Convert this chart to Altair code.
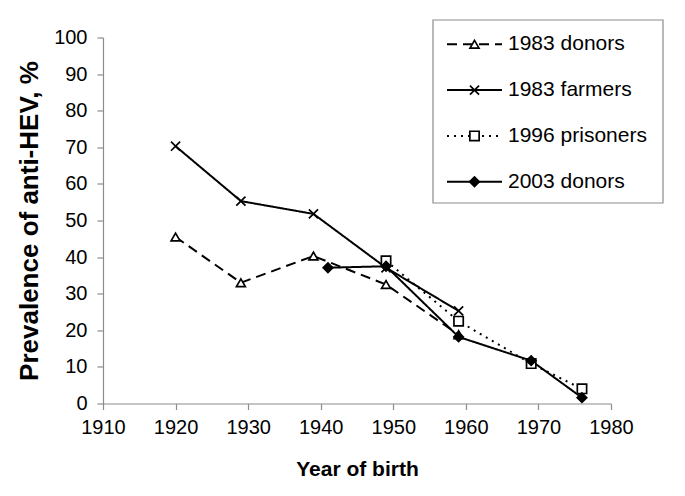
import altair as alt
import pandas as pd

series = ["1983 donors", "1983 farmers", "1996 prisoners", "2003 donors"]

donors83_years = [1920, 1929, 1939, 1949, 1959]
donors83_vals = [45.5, 33.0, 40.3, 32.5, 18.8]

farmers83_years = [1920, 1929, 1939, 1949, 1959]
farmers83_vals = [70.3, 55.3, 51.8, 37.1, 25.3]

prisoners96_years = [1949, 1959, 1969, 1976]
prisoners96_vals = [39.0, 22.5, 10.9, 4.0]

donors03_years = [1941, 1949, 1959, 1969, 1976]
donors03_vals = [37.1, 37.5, 18.2, 11.7, 1.6]

x_ticks = [1910, 1920, 1930, 1940, 1950, 1960, 1970, 1980]
y_ticks = [0, 10, 20, 30, 40, 50, 60, 70, 80, 90, 100]

rows = []
for name, ys, vs in [
    (series[0], donors83_years, donors83_vals),
    (series[1], farmers83_years, farmers83_vals),
    (series[2], prisoners96_years, prisoners96_vals),
    (series[3], donors03_years, donors03_vals),
]:
    for y, v in zip(ys, vs):
        rows.append({"series": name, "year": y, "value": v})
df = pd.DataFrame(rows)

leg_df = pd.DataFrame({"series": series, "idx": list(range(len(series)))})
box_df = pd.DataFrame({"k": [0]})

FONT = "Liberation Sans"
XPATH = "M-1,-1L1,1M-1,1L1,-1"

dash_scale = alt.Scale(domain=series, range=[[10, 6], [1, 0], [2, 5], [1, 0]])
shape_scale = alt.Scale(domain=series, range=["triangle-up", XPATH, "square", "diamond"])
fill_scale = alt.Scale(domain=series, range=["white", "white", "white", "black"])
size_scale = alt.Scale(domain=series, range=[80, 90, 80, 80])

x_enc = alt.X(
    "year:Q",
    scale=alt.Scale(domain=[1910, 1980], nice=False),
    axis=alt.Axis(
        values=x_ticks, tickCount=8, format="d", grid=False, title="Year of birth",
        titleBaseline="alphabetic", titleY=72, labelFlush=False,
        labelOverlap=False,
    ),
)
y_enc = alt.Y(
    "value:Q",
    scale=alt.Scale(domain=[0, 100], nice=False),
    axis=alt.Axis(
        values=y_ticks, tickCount=11, grid=False, title="Prevalence of anti-HEV, %",
        titleBaseline="alphabetic", titleX=-66, titleY=183, titleFontSize=26,
        labelFlush=False, labelOverlap=False,
    ),
)

lines = alt.Chart(df).mark_line(color="black", strokeWidth=2).encode(
    x=x_enc,
    y=y_enc,
    detail="series:N",
    strokeDash=alt.StrokeDash("series:N", scale=dash_scale, legend=None),
)

points = alt.Chart(df).mark_point(
    color="black", stroke="black", strokeWidth=1.7, filled=False, opacity=1
).encode(
    x=x_enc,
    y=y_enc,
    shape=alt.Shape("series:N", scale=shape_scale, legend=None),
    fill=alt.Fill("series:N", scale=fill_scale, legend=None),
    size=alt.Size("series:N", scale=size_scale, legend=None),
)

main = alt.layer(lines, points)

box = alt.Chart(box_df).mark_rect(
    fill="white", stroke="#8c8c8c", strokeWidth=1.2
).encode(
    x=alt.value(330), x2=alt.value(560), y=alt.value(-17.5), y2=alt.value(165.5)
)

leg_y = alt.Y("idx:Q", scale=alt.Scale(domain=[0, 3], range=[6.8, 144.2]), axis=None)

leg_lines = alt.Chart(leg_df).mark_rule(color="black", strokeWidth=2).encode(
    x=alt.value(344), x2=alt.value(399),
    y=leg_y,
    strokeDash=alt.StrokeDash("series:N", scale=dash_scale, legend=None),
)
leg_pts = alt.Chart(leg_df).mark_point(
    color="black", stroke="black", strokeWidth=1.7, filled=False, opacity=1
).encode(
    x=alt.value(371.5),
    y=leg_y,
    shape=alt.Shape("series:N", scale=shape_scale, legend=None),
    fill=alt.Fill("series:N", scale=fill_scale, legend=None),
    size=alt.Size("series:N", scale=size_scale, legend=None),
)
leg_text = alt.Chart(leg_df).mark_text(
    align="left", baseline="middle", fontSize=21, font=FONT, color="black"
).encode(
    x=alt.value(405),
    y=leg_y,
    text="series:N",
)

legend = alt.layer(box, leg_lines, leg_pts, leg_text)

chart = alt.layer(main, legend).resolve_scale(y="independent").properties(
    width=508,
    height=366,
    padding={"left": 95, "top": 29.5, "right": 60, "bottom": 80},
    autosize="none",
).configure_view(stroke=None).configure_axis(
    domainColor="#8c8c8c",
    tickColor="#8c8c8c",
    domainWidth=1.2,
    tickWidth=1.2,
    tickSize=6,
    labelFont=FONT,
    labelFontSize=20,
    labelColor="black",
    labelPadding=8,
    titleFont=FONT,
    titleFontSize=21,
    titleFontWeight="bold",
    titleColor="black",
).configure_axisY(labelPadding=10)

chart.save("out.html", embed_options={"renderer": "svg", "actions": False})
